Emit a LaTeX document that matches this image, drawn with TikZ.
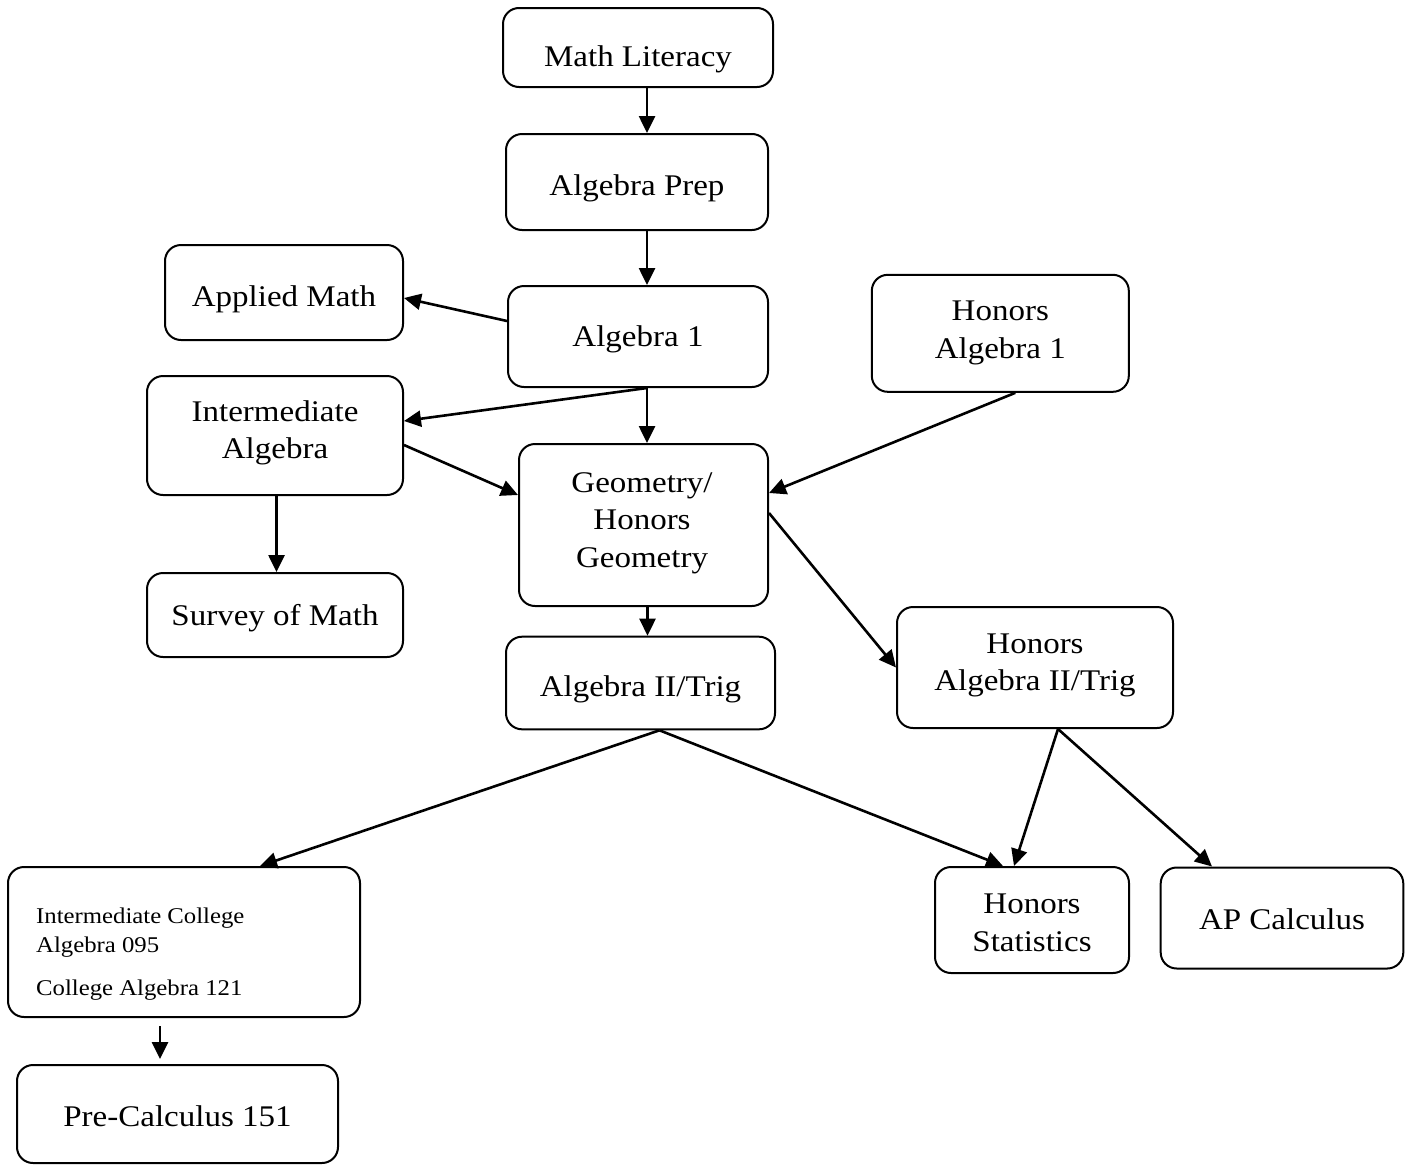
\documentclass[tikz,border=0pt]{standalone}
\usepackage{fontspec}
\setmainfont{Liberation Serif}[FakeStretch=1.1]
\usetikzlibrary{arrows.meta,calc}
\tikzset{
  box/.style={draw, line width=2pt, rounded corners=16pt, rectangle, inner sep=0pt},
  txt/.style={inner sep=0pt, align=center, font=\fontsize{30}{37.5}\selectfont},
  smalltxt/.style={inner sep=0pt, align=left, font=\fontsize{22.5}{29}\selectfont},
  arr/.style={line width=2.6pt, -{Triangle[length=17pt,width=16pt]}}
}
\begin{document}
\begin{tikzpicture}[x=1pt,y=-1pt]
\useasboundingbox (0,0) rectangle (1410,1165);
% boxes
\node[box, minimum width=270pt, minimum height=79pt]  (lit)     at (638,47.5) {};
\node[box, minimum width=262pt, minimum height=96pt]  (prep)    at (637,182) {};
\node[box, minimum width=238pt, minimum height=95pt]  (applied) at (284,292.5) {};
\node[box, minimum width=260pt, minimum height=101pt] (alg1)    at (638,336.5) {};
\node[box, minimum width=257pt, minimum height=117pt] (hon1)    at (1000.3,333.3) {};
\node[box, minimum width=256pt, minimum height=119pt] (inter)   at (275,435.5) {};
\node[box, minimum width=249pt, minimum height=162pt] (geo)     at (643.5,525) {};
\node[box, minimum width=256pt, minimum height=84pt]  (survey)  at (275,615) {};
\node[box, minimum width=269pt, minimum height=92.6pt] (alg2)   at (640.5,683) {};
\node[box, minimum width=276pt, minimum height=121pt] (hon2)    at (1035,667.5) {};
\node[box, minimum width=352pt, minimum height=150pt] (icoll)   at (184,942) {};
\node[box, minimum width=194pt, minimum height=106pt] (hstat)   at (1032,920) {};
\node[box, minimum width=242.6pt, minimum height=101pt] (apcalc) at (1282,918) {};
\node[box, minimum width=321pt, minimum height=98pt]  (precalc) at (177.5,1114) {};
% texts
\node[txt] (litT)     at (638,59.2)    {\strut Math Literacy};
\node[txt] (prepT)    at (637,187.5)   {\strut Algebra Prep};
\node[txt] (appliedT) at (284,299.2)   {\strut Applied Math};
\node[txt] (alg1T)    at (638,339.2)   {\strut Algebra 1};
\node[txt] (hon1T)    at (1000.3,332.2) {\strut Honors\\\strut Algebra 1};
\node[txt] (interT)   at (275,432.5)   {\strut Intermediate\\\strut Algebra};
\node[txt] (geoT)     at (642,522.1)   {\strut Geometry/\\\strut Honors\\\strut Geometry};
\node[txt] (surveyT)  at (275,617.5)   {\strut Survey of Math};
\node[txt] (alg2T)    at (640.5,689.2) {\strut Algebra II/Trig};
\node[txt] (hon2T)    at (1035,664.5)  {\strut Honors\\\strut Algebra II/Trig};
\node[txt] (hstatT)   at (1032,925)    {\strut Honors\\\strut Statistics};
\node[txt] (apcalcT)  at (1282,921.8)  {\strut AP Calculus};
\node[txt] (precalcT) at (177.5,1119.2) {\strut Pre-Calculus 151};
\node[smalltxt, anchor=north west] (icollT) at (36,902.7)
  {\strut Intermediate College\\\strut Algebra 095\\[14pt]\strut College Algebra 121};
% arrows
\draw[arr] ($(lit.south)+(9,0)$) -- ($(prep.north)+(10,0)$);
\draw[arr] ($(prep.south)+(10,0)$) -- ($(alg1.north)+(9,0)$);
\draw[arr] ($(alg1.west)+(0,-15.5)$) -- ($(applied.east)+(0,5.5)$);
\draw[arr] ($(alg1.south)+(9,0)$) -- ($(inter.east)+(0,-14.5)$);
\draw[arr] ($(alg1.south)+(9,0)$) -- ($(geo.north)+(3.5,0)$);
\draw[arr] ($(inter.east)+(0,9.5)$) -- ($(geo.west)+(0,-30)$);
\draw[arr] ($(hon1.south)+(15,0)$) -- ($(geo.east)+(0,-32)$);
\draw[arr] ($(inter.south)+(1.5,0)$) -- ($(survey.north)+(1.5,0)$);
\draw[arr] ($(geo.south)+(4,0)$) -- ($(alg2.north)+(7,0)$);
\draw[arr] ($(geo.east)+(0,-12)$) -- (hon2.west);
\draw[arr] ($(alg2.south)+(19,0)$) -- ($(icoll.north)+(76,0)$);
\draw[arr] ($(alg2.south)+(19,0)$) -- ($(hstat.north)+(-29,0)$);
\draw[arr] ($(hon2.south)+(23,0)$) -- ($(hstat.north)+(-18,0)$);
\draw[arr] ($(hon2.south)+(23,0)$) -- ($(apcalc.north)+(-70,0)$);
\draw[arr] ($(icoll.south)+(-24,8)$) -- ($(precalc.north)+(-17.5,-5)$);
\end{tikzpicture}
\end{document}
